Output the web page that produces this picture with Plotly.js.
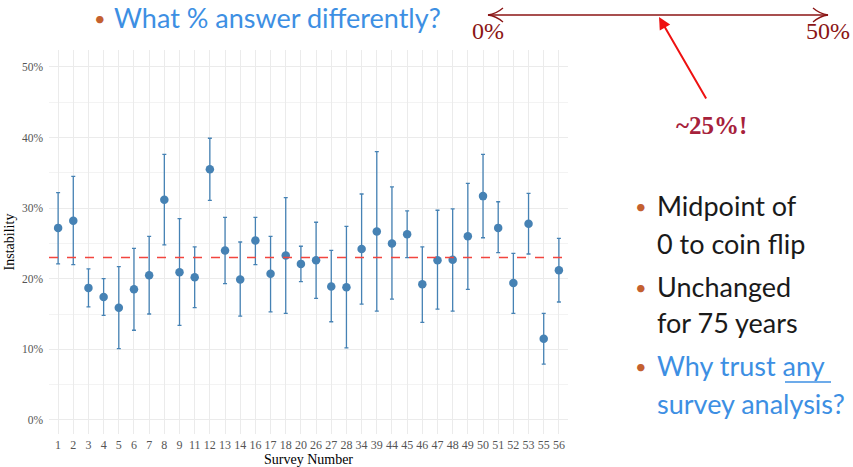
<!DOCTYPE html>
<html><head><meta charset="utf-8">
<script src="https://cdn.plot.ly/plotly-3.0.1.min.js"></script>
<style>html,body{margin:0;padding:0;background:#fff;}#chart{width:853px;height:467px;}</style>
</head><body><div id="chart"></div>
<script>
// ---- data ----
const surveys = ["1","2","3","4","5","6","7","8","9","11","12","13","14","16","17","18","20","26","27","28","34","39","44","45","46","47","48","49","50","51","52","53","55","56"];
const instability = [0.272,0.282,0.187,0.174,0.159,0.185,0.205,0.312,0.209,0.202,0.355,0.240,0.199,0.254,0.207,0.233,0.221,0.226,0.189,0.188,0.242,0.267,0.250,0.263,0.192,0.226,0.227,0.260,0.317,0.272,0.194,0.278,0.115,0.212];
const upper = [0.322,0.345,0.214,0.200,0.217,0.243,0.260,0.376,0.285,0.245,0.399,0.287,0.252,0.287,0.260,0.315,0.246,0.280,0.240,0.274,0.320,0.380,0.330,0.296,0.245,0.297,0.299,0.335,0.376,0.309,0.236,0.321,0.151,0.257];
const lower = [0.221,0.220,0.160,0.148,0.101,0.127,0.150,0.248,0.134,0.159,0.311,0.193,0.147,0.220,0.153,0.151,0.196,0.172,0.139,0.102,0.164,0.154,0.171,0.230,0.138,0.157,0.154,0.185,0.258,0.237,0.151,0.235,0.079,0.167];
const meanLine = 0.23;
const yTicks = [0, 0.1, 0.2, 0.3, 0.4, 0.5];
const yTickText = ["0%","10%","20%","30%","40%","50%"];

// ---- layout helpers (pixel -> paper) ----
const W = 853, H = 467, L = 49, R = 285, T = 50, B = 33;
const pw = W - L - R, ph = H - T - B;
const px = x => (x - L) / pw;
const py = y => (H - B - y) / ph;

const trace = {
  type: 'scatter', mode: 'markers',
  x: surveys, y: instability,
  marker: {color: '#4682B4', size: 8.5},
  error_y: {type: 'data', symmetric: false,
    array: instability.map((v,i) => upper[i] - v),
    arrayminus: instability.map((v,i) => v - lower[i]),
    color: '#4682B4', thickness: 1.3, width: 2},
  hoverinfo: 'skip'
};

const sansFont = 'Lato, "Noto Sans", sans-serif';
const serifFont = '"Liberation Serif", "DejaVu Serif", serif';
const orange = '#c4602f', blue = '#3d8fe3', dark = '#1a1a1a', maroon = '#8b1515';
const big = 27;

function txt(x, y, text, color, size, family, anchor) {
  return {xref:'paper', yref:'paper', x: px(x), y: py(y), text: text, showarrow:false,
    xanchor: anchor || 'left', yanchor:'middle', font:{family: family || sansFont, size: size || big, color: color}};
}

const annotations = [
  txt(92, 18, '•', orange, 20),
  txt(112, 17, 'What % answer differently?', blue),
  txt(488, 31, '0%', maroon, 24, serifFont, 'center'),
  txt(828, 31, '50%', maroon, 24, serifFont, 'center'),
  txt(711, 126, '<b>~25%!</b>', '#a6213b', 25, serifFont, 'center'),
  {xref:'paper', yref:'paper', x: px(659), y: py(17), ax: 707 - 659, ay: 100 - 17,
   axref:'pixel', ayref:'pixel', showarrow:true, arrowhead:2, arrowsize:1.2, arrowwidth:2, arrowcolor:'#ee1111', text:''},
  txt(633, 206, '•', orange, 20),
  txt(655, 205, 'Midpoint of', dark),
  txt(655, 243, '0 to coin flip', dark),
  txt(633, 287, '•', orange, 20),
  txt(655, 286, 'Unchanged', dark),
  txt(655, 322, 'for 75 years', dark),
  txt(633, 366, '•', orange, 20),
  txt(655, 365, 'Why trust any', blue),
  txt(655, 403, 'survey analysis?', blue)
];

const shapes = [
  {type:'line', xref:'paper', yref:'y', x0:0, x1:1, y0:meanLine, y1:meanLine,
   line:{color:'#f2453f', width:1.5, dash:'dash'}},
  {type:'line', xref:'paper', yref:'paper', x0:px(488), x1:px(828), y0:py(15), y1:py(15),
   line:{color:maroon, width:1.3}},
  {type:'path', xref:'paper', yref:'paper',
   path:`M ${px(503)} ${py(8)} Q ${px(496)} ${py(14)} ${px(488)} ${py(15)} Q ${px(496)} ${py(16)} ${px(503)} ${py(22)}`,
   line:{color:maroon, width:1.3}},
  {type:'path', xref:'paper', yref:'paper',
   path:`M ${px(813)} ${py(8)} Q ${px(820)} ${py(14)} ${px(828)} ${py(15)} Q ${px(820)} ${py(16)} ${px(813)} ${py(22)}`,
   line:{color:maroon, width:1.3}},
  {type:'line', xref:'paper', yref:'paper', x0:px(785), x1:px(831), y0:py(382), y1:py(382),
   line:{color:blue, width:1.3}}
];

const layout = {
  width: W, height: H,
  margin: {l:L, r:R, t:T, b:B, pad:0},
  paper_bgcolor:'#fff', plot_bgcolor:'#fff',
  showlegend:false,
  font:{family: serifFont, color:'#555'},
  xaxis: {type:'category', range:[-0.6, 33.6], showgrid:true, gridcolor:'#ebebeb', gridwidth:1,
    zeroline:false, showline:false, ticks:'', ticklabelstandoff:2,
    tickfont:{size:12, color:'#555', family:serifFont},
    title:{text:'Survey Number', font:{size:14, color:'#000', family:serifFont}, standoff:3},
    fixedrange:true},
  yaxis: {range:[-0.02, 0.524], tickvals:yTicks, ticktext:yTickText, showgrid:true, gridcolor:'#ebebeb',
    gridwidth:1, zeroline:false, showline:false, ticks:'', ticklabelstandoff:5,
    tickfont:{size:11.5, color:'#555', family:serifFont},
    minor:{tick0:0.05, dtick:0.1, showgrid:true, gridcolor:'#f3f3f3', gridwidth:1},
    title:{text:'Instability', font:{size:14, color:'#000', family:serifFont}, standoff:4},
    fixedrange:true},
  annotations: annotations,
  shapes: shapes
};

Plotly.newPlot('chart', [trace], layout, {displayModeBar:false, staticPlot:true});
</script>
</body></html>
